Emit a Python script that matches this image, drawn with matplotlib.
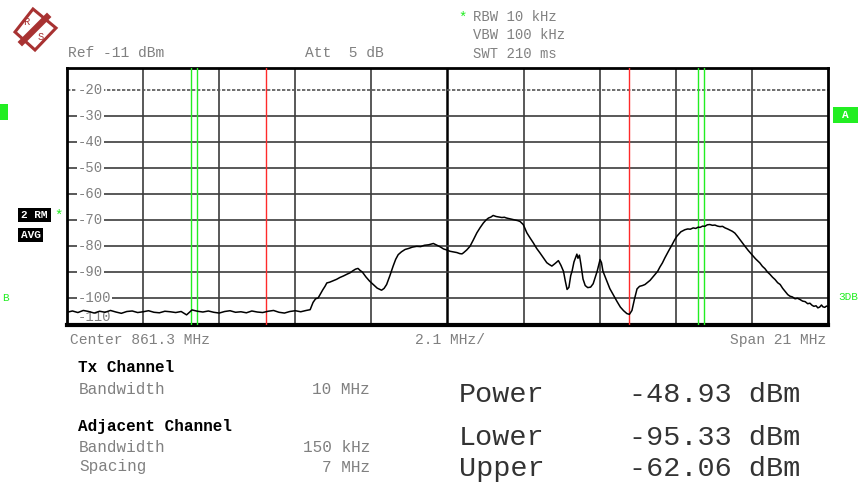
import matplotlib.pyplot as plt
from matplotlib.patches import Rectangle, Polygon
from matplotlib.lines import Line2D

plt.rcParams['font.family'] = ['Liberation Mono', 'DejaVu Sans Mono']

W, H = 863, 482

# analyzer settings
center_mhz = 861.3
span_mhz = 21.0
ref_dbm = -11
level_ticks = [-20, -30, -40, -50, -60, -70, -80, -90, -100, -110]
tx_bw_mhz = 10.0
adj_bw_mhz = 0.15
adj_spacing_mhz = 7.0

# trace: noise floor
noise_freq = [850.80, 850.95, 851.10, 851.25, 851.40, 851.55, 851.70, 851.85, 852.00,
              852.15, 852.30, 852.45, 852.60, 852.75, 852.90, 853.05, 853.20, 853.35,
              853.50, 853.65, 853.80, 853.95, 854.10, 854.25, 854.40, 854.55, 854.70,
              854.85, 855.00, 855.15, 855.30, 855.45, 855.60, 855.75, 855.90, 856.05,
              856.20, 856.35, 856.50, 856.65, 856.80, 856.95, 857.10, 857.25, 857.40]
noise_level = [-105.6, -105.1, -105.7, -104.9, -105.3, -105.9, -105.2, -105.6, -104.9,
               -105.5, -106.0, -105.3, -105.1, -105.7, -105.4, -105.0, -105.6, -105.8,
               -105.2, -105.4, -105.7, -105.3, -106.6, -104.7, -105.2, -105.5, -105.1,
               -105.6, -105.9, -105.3, -105.0, -105.6, -105.4, -105.8, -105.1, -105.5,
               -105.7, -105.2, -104.9, -105.6, -105.9, -105.3, -105.0, -105.4, -104.9]

# trace: signal part
sig_freq = [857.51, 857.59, 857.66, 857.73, 857.80, 857.86, 857.92, 857.97, 858.05, 858.14,
            858.24, 858.33, 858.43, 858.53, 858.61, 858.69, 858.76, 858.83, 858.89, 858.95,
            859.05, 859.15, 859.25, 859.36, 859.48, 859.55, 859.62, 859.71, 859.80, 859.87,
            859.94, 860.03, 860.13, 860.23, 860.33, 860.45, 860.56, 860.66, 860.78, 860.91,
            861.00, 861.10, 861.19, 861.28, 861.37, 861.48, 861.56, 861.64, 861.70, 861.74,
            861.83, 861.92, 862.01, 862.11, 862.20, 862.29, 862.36, 862.43, 862.50, 862.56,
            862.64, 862.72, 862.80, 862.87, 862.93, 863.02, 863.10, 863.18, 863.24, 863.30,
            863.39, 863.49, 863.58, 863.67, 863.76, 863.85, 863.95, 864.04, 864.11, 864.18,
            864.27, 864.36, 864.43, 864.50, 864.55, 864.60, 864.65, 864.70, 864.74, 864.79,
            864.84, 864.87, 864.90, 864.94, 864.98, 865.04, 865.10, 865.17, 865.25, 865.32,
            865.38, 865.43, 865.47, 865.51, 865.55, 865.59, 865.68, 865.78, 865.88, 865.98,
            866.07, 866.16, 866.25, 866.32, 866.39, 866.46, 866.53, 866.60, 866.68, 866.75,
            866.89, 867.03, 867.10, 867.16, 867.23, 867.30, 867.40, 867.50, 867.56, 867.63,
            867.74, 867.85, 867.93, 868.00, 868.08, 868.15, 868.22, 868.27, 868.34, 868.40,
            868.47, 868.54, 868.61, 868.68, 868.75, 868.82, 868.89, 868.96, 869.03, 869.10,
            869.16, 869.23, 869.30, 869.37, 869.44, 869.51, 869.60, 869.70, 869.80, 869.92,
            869.99, 870.06, 870.13, 870.20, 870.27, 870.34, 870.41, 870.48, 870.55, 870.62,
            870.69, 870.75, 870.82, 870.89, 870.96, 871.03, 871.10, 871.17, 871.24, 871.30,
            871.36, 871.41, 871.47, 871.52, 871.57, 871.62, 871.66, 871.71, 871.76, 871.80]
sig_level = [-104.6, -101.8, -100.4, -100.1, -98.4, -96.9, -95.6, -94.3, -94.0, -93.5,
             -92.9, -92.2, -91.6, -90.9, -90.4, -89.6, -89.0, -88.7, -89.5, -90.1,
             -92.0, -93.6, -94.9, -96.3, -97.1, -96.4, -94.9, -91.5, -87.8, -85.2,
             -83.4, -82.3, -81.4, -81.0, -80.5, -80.2, -80.3, -79.8, -79.6, -79.1,
             -79.7, -80.4, -81.2, -81.6, -82.1, -82.4, -82.6, -83.0, -83.1, -82.7,
             -81.6, -80.2, -77.8, -75.0, -73.0, -71.2, -70.1, -69.3, -68.9, -68.3,
             -68.7, -68.9, -69.1, -69.0, -69.3, -69.6, -69.9, -70.1, -70.3, -70.6,
             -71.8, -75.0, -77.0, -78.9, -81.0, -82.7, -84.7, -86.5, -87.2, -87.8,
             -86.8, -85.7, -87.5, -89.8, -93.5, -96.8, -96.0, -91.5, -89.6, -86.2,
             -84.3, -83.2, -84.8, -83.6, -87.0, -92.8, -95.3, -96.1, -95.9, -94.6,
             -92.0, -89.8, -87.5, -85.3, -86.5, -89.8, -93.0, -96.5, -99.0, -101.5,
             -103.6, -105.0, -106.1, -106.4, -104.9, -100.5, -96.6, -95.6, -95.3, -94.9,
             -93.3, -91.0, -89.8, -88.2, -86.6, -84.6, -82.0, -79.5, -77.9, -76.3,
             -74.6, -73.8, -73.5, -73.6, -73.1, -73.3, -72.8, -72.9, -72.4, -72.5,
             -71.9, -71.8, -72.1, -72.0, -72.4, -72.6, -72.5, -73.1, -73.5, -74.0,
             -74.4, -75.1, -76.3, -77.6, -78.9, -80.2, -81.8, -83.4, -85.0, -86.6,
             -87.9, -88.8, -90.1, -91.0, -92.1, -93.0, -94.2, -94.9, -96.4, -97.6,
             -98.8, -99.4, -99.7, -100.4, -100.2, -100.7, -101.3, -101.5, -102.3, -102.1,
             -102.9, -103.3, -103.1, -103.9, -103.6, -102.8, -103.5, -103.7, -103.2, -103.4]

setup_names = ['Bandwidth', 'Bandwidth', 'Spacing']
setup_values = ['10 MHz', '150 kHz', '7 MHz']
result_names = ['Power', 'Lower', 'Upper']
result_values = ['-48.93 dBm', '-95.33 dBm', '-62.06 dBm']

GRAY = '#808080'
GREEN = '#22ee22'


def ftext(x, y, s, **kw):
    kw.setdefault('va', 'center')
    fig.text(x / W, 1 - y / H, s, **kw)


def frect(x0, y0, x1, y1, color):
    fig.add_artist(Rectangle((x0 / W, 1 - y1 / H), (x1 - x0) / W, (y1 - y0) / H,
                             transform=fig.transFigure, color=color, lw=0))


fig = plt.figure(figsize=(W / 100, H / 100), dpi=100)
fig.patch.set_facecolor('white')
ax = fig.add_axes([67 / W, 1 - 325 / H, 761 / W, 257 / H])
f0 = center_mhz - span_mhz / 2
ax.set_xlim(f0, f0 + span_mhz)
ax.set_ylim(-110.5, -11.5)
ax.set_xticks([]); ax.set_yticks([])
for s in ax.spines.values():
    s.set_linewidth(2.0)
ax.spines['bottom'].set_linewidth(3.0)

# grid
for k in range(1, 10):
    xv = f0 + k * span_mhz / 10
    ax.axvline(xv, color='black' if k == 5 else '#3c3c3c', lw=1.8 if k == 5 else 1.2, zorder=1)
for v in level_ticks:
    ax.axhline(v, color='#555555' if v == -20 else '#3c3c3c', lw=1.2, zorder=1,
               ls=(0, (2, 1)) if v == -20 else '-')
    ax.text(f0 + 0.3, v if v > -110 else -107.6, str(v), fontsize=10, color=GRAY,
            ha='left', va='center', zorder=2,
            bbox=dict(boxstyle='square,pad=0.08', fc='white', ec='none'))

# channel lines
for sgn in (-1, 1):
    ax.axvline(center_mhz + sgn * tx_bw_mhz / 2, color='#ff2a2a', lw=1.0, zorder=3)
    for d in (-1, 1):
        ax.axvline(center_mhz + sgn * adj_spacing_mhz + d * adj_bw_mhz / 2,
                   color=GREEN, lw=1.0, zorder=3)

ax.plot(noise_freq + sig_freq, noise_level + sig_level, color='black', lw=1.1, zorder=4)

# header
ftext(68, 53, 'Ref %d dBm' % ref_dbm, fontsize=10.5, color=GRAY)
ftext(305, 53, 'Att  5 dB', fontsize=10.5, color=GRAY)
ftext(463, 18, '*', fontsize=10, color=GREEN, ha='center')
ftext(473, 17, 'RBW 10 kHz', fontsize=10, color=GRAY)
ftext(473, 35, 'VBW 100 kHz', fontsize=10, color=GRAY)
ftext(473, 54, 'SWT 210 ms', fontsize=10, color=GRAY)

# footer of the diagram
ftext(70, 340, 'Center %.1f MHz' % center_mhz, fontsize=10.5, color=GRAY)
ftext(415, 340, '%.1f MHz/' % (span_mhz / 10), fontsize=10.5, color=GRAY)
ftext(826, 340, 'Span %d MHz' % span_mhz, fontsize=10.5, color=GRAY, ha='right')

# side markers
frect(0, 104, 8, 120, GREEN)
frect(18, 208, 51, 222, 'black')
ftext(34.5, 215, '2 RM', fontsize=8, color='white', ha='center', weight='bold')
frect(18, 228, 43, 242, 'black')
ftext(30.5, 235, 'AVG', fontsize=8, color='white', ha='center', weight='bold')
ftext(59, 216, '*', fontsize=10, color=GREEN, ha='center')
ftext(5, 298, 'B', fontsize=8, color=GREEN, ha='center')
frect(833, 107, 858, 123, GREEN)
ftext(845.5, 115, 'A', fontsize=8, color='white', ha='center', weight='bold')
ftext(848, 297, '3DB', fontsize=8, color=GREEN, ha='center')

# R&S logo
logo_c = '#a83232'
fig.add_artist(Polygon([(33 / W, 1 - 9 / H), (56 / W, 1 - 28 / H), (35 / W, 1 - 50 / H), (15 / W, 1 - 32 / H)],
                       closed=True, fill=False, ec=logo_c, lw=2.2, transform=fig.transFigure))
fig.add_artist(Line2D([47 / W, 22 / W], [1 - 17 / H, 1 - 42 / H], color=logo_c, lw=4.5,
                      transform=fig.transFigure))
ftext(26, 22, 'R', fontsize=7.5, color=logo_c, ha='center')
ftext(41, 37, 'S', fontsize=7.5, color=logo_c, ha='center')

# channel table
ftext(78, 368, 'Tx Channel', fontsize=11.5, weight='bold', color='black')
ftext(78, 427, 'Adjacent Channel', fontsize=11.5, weight='bold', color='black')
for name, val, y in zip(setup_names, setup_values, [389, 448, 467]):
    ftext(79, y, name, fontsize=11.5, color=GRAY)
    ftext(370, y, val, fontsize=11.5, color=GRAY, ha='right')
for name, val, y in zip(result_names, result_values, [395, 438, 469]):
    ftext(459, y, name, fontsize=20.5, color='#333333')
    ftext(629, y, val, fontsize=20.5, color='#333333')

fig.savefig('out.png', dpi=100)
